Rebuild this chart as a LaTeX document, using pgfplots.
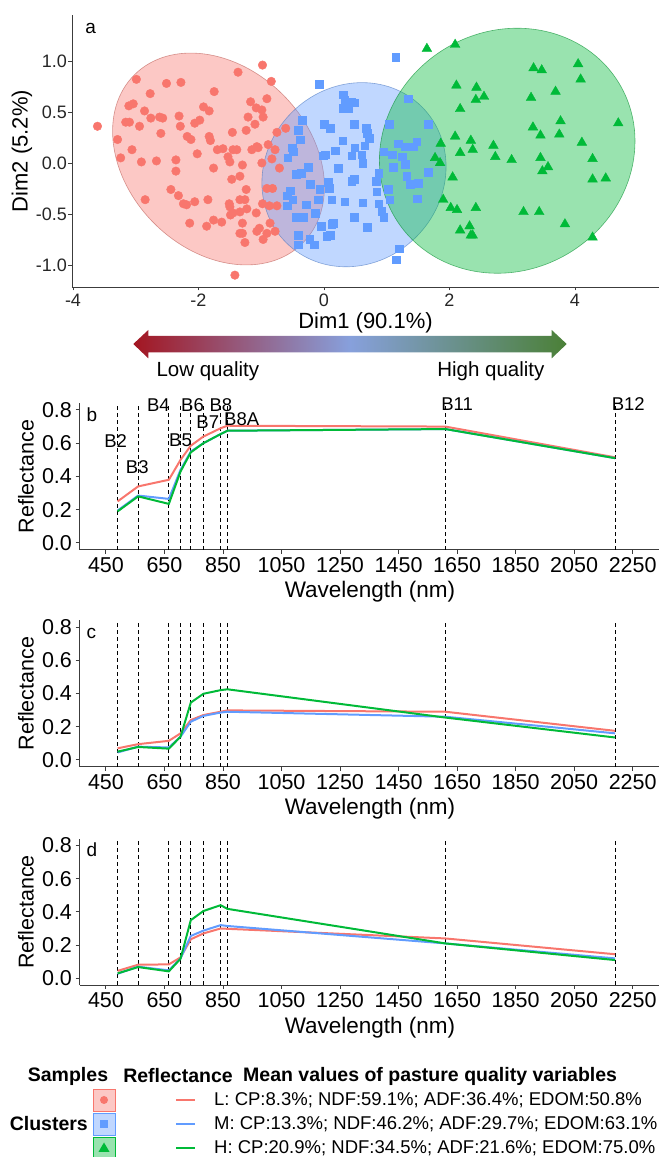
\documentclass[border=0pt]{standalone}
\usepackage{fontspec}
\setmainfont{Liberation Sans}
\usepackage{pgfplots}
\pgfplotsset{compat=1.18}
\usepackage{pgfplotstable}

\definecolor{cL}{HTML}{F8766D}
\definecolor{cM}{HTML}{619CFF}
\definecolor{cH}{HTML}{00BA38}
\definecolor{arrL}{RGB}{163,22,33}
\definecolor{arrM}{RGB}{135,160,220}
\definecolor{arrR}{RGB}{75,128,55}
\definecolor{axgray}{RGB}{60,60,60}

% PCA scores (Dim1, Dim2) by cluster
\pgfplotstableread{
x y
-3.61 0.36
-3.29 0.23
-3.24 0.05
-2.99 0.82
-3.11 0.56
-3.04 0.58
-3.16 0.40
-3.10 0.40
-3.06 0.13
-2.94 0.36
-2.91 0.01
-2.85 -0.36
-2.86 0.51
-2.77 0.68
-2.76 0.44
-2.62 0.45
-2.57 0.44
-2.60 0.29
-2.67 0.02
-2.51 0.78
-2.28 0.79
-2.31 0.46
-2.29 0.36
-2.44 -0.26
-2.36 0.03
-2.36 -0.08
-2.32 -0.32
-2.24 -0.40
-2.19 -0.41
-2.14 -0.59
-2.18 0.26
-2.12 0.23
-2.06 0.39
-1.98 0.42
-2.02 0.09
-2.06 -0.38
-1.92 0.55
-1.83 0.51
-1.75 0.70
-1.83 0.26
-1.81 0.22
-1.76 -0.05
-1.85 -0.36
-1.87 -0.62
-1.76 -0.56
-1.63 -0.58
-1.70 0.13
-1.61 0.14
-1.53 0.06
-1.50 0.01
-1.46 0.30
-1.45 0.13
-1.39 0.13
-1.47 -0.16
-1.34 -0.13
-1.30 -0.02
-1.51 -0.40
-1.50 -0.43
-1.49 -0.51
-1.45 -0.49
-1.34 -0.36
-1.26 -0.36
-1.34 -0.48
-1.23 -0.45
-1.24 -0.26
-1.30 -0.59
-1.34 -0.69
-1.30 -0.69
-1.26 -0.78
-1.42 -1.10
-1.37 0.89
-1.17 0.60
-1.08 0.54
-1.21 0.45
-1.24 0.32
-1.10 0.38
-1.15 0.13
-1.07 0.16
-1.07 -0.67
-0.98 0.96
-0.84 0.80
-0.91 0.63
-0.99 0.52
-0.97 0.45
-0.75 0.30
-0.61 0.34
-1.05 0.15
-0.89 0.18
-0.78 0.13
-0.83 0.04
-0.99 0.00
-0.71 -0.05
-0.91 -0.25
-0.82 -0.25
-1.08 -0.49
-0.98 -0.40
-1.03 -0.64
-0.86 -0.59
-0.78 -0.67
-0.91 -0.69
-0.97 -0.75
-0.87 -0.42
-0.75 -0.42
}\ptsL

\pgfplotstableread{
x y
1.14 1.04
-0.08 0.77
0.31 0.67
0.33 0.62
0.43 0.60
0.48 0.59
0.31 0.54
0.39 0.54
1.34 0.63
-0.35 0.42
0.00 0.38
0.10 0.34
0.48 0.38
0.67 0.34
0.69 0.29
0.72 0.24
1.04 0.38
1.66 0.38
-0.41 0.32
-0.38 0.23
-0.51 0.15
-0.49 0.11
0.30 0.22
0.49 0.15
0.18 0.12
0.65 0.17
-0.01 0.07
0.44 0.07
0.60 0.08
0.62 0.00
0.95 0.11
1.09 0.08
1.18 0.19
1.29 0.16
1.42 0.16
1.48 0.21
1.25 0.06
1.29 -0.01
1.10 -0.04
-0.25 -0.04
-0.44 -0.11
-0.36 -0.10
0.23 -0.05
0.87 -0.10
0.83 -0.18
1.32 -0.13
1.66 -0.09
-0.22 -0.21
0.44 -0.18
0.48 -0.16
0.07 -0.19
0.08 -0.25
-0.07 -0.26
1.37 -0.21
1.50 -0.20
-0.54 -0.27
-0.59 -0.32
0.84 -0.28
1.02 -0.26
-0.09 -0.36
-0.50 -0.36
0.12 -0.36
0.33 -0.38
0.62 -0.39
0.87 -0.40
0.92 -0.47
1.05 -0.36
1.49 -0.35
-0.28 -0.41
-0.14 -0.49
-0.59 -0.42
-0.44 -0.53
0.48 -0.53
0.95 -0.53
0.69 -0.63
0.12 -0.60
0.10 -0.71
0.04 -0.72
-0.41 -0.71
-0.41 -0.80
-0.23 -0.75
-0.16 -0.80
1.20 -0.84
1.15 -0.95
0.02 0.08
-0.58 0.05
-0.33 -0.53
-0.04 -0.62
0.15 -0.59
}\ptsM

\pgfplotstableread{
x y
1.64 1.12
2.09 1.16
3.34 0.93
3.47 0.91
4.05 0.97
4.09 0.82
2.11 0.76
2.43 0.74
2.42 0.62
2.55 0.65
3.69 0.70
3.30 0.64
2.17 0.53
3.77 0.41
4.69 0.39
3.33 0.35
3.45 0.27
3.75 0.28
2.09 0.26
2.34 0.22
2.37 0.13
2.17 0.10
2.70 0.17
2.73 0.06
2.99 0.03
4.11 0.20
1.86 0.19
1.77 0.05
1.85 0.00
3.45 0.05
3.57 -0.04
3.48 -0.08
4.28 0.04
4.28 -0.16
4.49 -0.15
2.05 -0.14
1.90 -0.36
2.02 -0.44
2.12 -0.46
2.42 -0.44
3.18 -0.48
3.43 -0.48
3.84 -0.60
2.17 -0.66
2.32 -0.62
2.34 -0.71
2.37 -0.71
4.28 -0.73
}\ptsH

% Mean reflectance per cluster at the Sentinel-2 band centres
\pgfplotstableread{
wl L M H
490 0.250 0.195 0.190
560 0.340 0.285 0.280
665 0.380 0.265 0.235
705 0.500 0.440 0.430
740 0.585 0.550 0.545
783 0.640 0.600 0.600
842 0.690 0.655 0.655
865 0.705 0.675 0.675
1610 0.700 0.685 0.685
2190 0.515 0.510 0.510
}\specb

\pgfplotstableread{
wl L M H
490 0.070 0.045 0.050
560 0.095 0.080 0.078
665 0.115 0.075 0.068
705 0.160 0.140 0.140
740 0.240 0.230 0.345
783 0.270 0.265 0.398
842 0.290 0.285 0.420
865 0.298 0.290 0.425
1610 0.290 0.260 0.255
2190 0.175 0.160 0.135
}\specc

\pgfplotstableread{
wl L M H
490 0.045 0.028 0.030
560 0.082 0.070 0.068
665 0.084 0.048 0.042
705 0.126 0.120 0.118
740 0.235 0.255 0.350
783 0.270 0.287 0.405
842 0.300 0.320 0.440
865 0.298 0.315 0.418
1610 0.240 0.210 0.210
2190 0.145 0.120 0.110
}\specd

\newcommand\fs[1]{\fontsize{#1}{#1}\selectfont}

\pgfplotsset{
  classic/.style={
    scale only axis, anchor=south west, clip=false,
    axis lines=left,
    axis line style={-, draw=axgray, line width=0.9pt},
    tick style={draw=axgray, line width=0.9pt},
    tick align=outside, major tick length=4pt,
  },
  spectrum/.style={
    classic,
    width=579.4pt, height=146.3pt,
    xmin=360, xmax=2340, ymin=-0.04, ymax=0.84,
    xtick={450,650,...,2250},
    xticklabels={450,650,850,1050,1250,1450,1650,1850,2050,2250},
    ytick={0,0.2,0.4,0.6,0.8},
    yticklabels={0.0,0.2,0.4,0.6,0.8},
    ticklabel style={font=\fs{21.5}, text=black},
    yticklabel style={inner xsep=3.5pt},
  },
}

\newcommand\bands{%
  \pgfplotsinvokeforeach{490,560,665,705,740,783,842,865,1610,2190}{%
    \draw[black, line width=0.9pt, dash pattern=on 4pt off 3pt]
      (axis cs:##1,-0.04) -- (axis cs:##1,0.84);}%
}
\newcommand\spectra[1]{%
  \addplot[cL, line width=2pt] table[x=wl, y=L] {#1};
  \addplot[cM, line width=2pt] table[x=wl, y=M] {#1};
  \addplot[cH, line width=2pt] table[x=wl, y=H] {#1};
}

\begin{document}
\begin{tikzpicture}
\path[use as bounding box] (0,0) rectangle (659pt,1157pt);

% ---------------- a: PCA biplot of samples ----------------
\begin{axis}[classic,
  at={(72pt,870pt)}, width=587pt, height=272pt,
  xmin=-4.016, xmax=5.339, ymin=-1.216, ymax=1.451,
  major tick length=3.5pt,
  xtick={-4,-2,0,2,4}, xticklabels={-4,-2,0,2,4},
  ytick={-1,-0.5,0,0.5,1}, yticklabels={-1.0,-0.5,0.0,0.5,1.0},
  ticklabel style={font=\fs{18}, text=black!85},
  yticklabel style={inner xsep=1.5pt},
]
\addplot[only marks, color=cL, mark=*, mark size=4.3pt] table {\ptsL};
\addplot[only marks, color=cM, mark=square*, mark size=3.8pt] table {\ptsM};
\addplot[only marks, color=cH, mark=triangle*, mark size=5.6pt] table {\ptsH};

\path[fill=cL, fill opacity=0.4, draw=cL!75!black, draw opacity=0.6, line width=0.6pt,
  rotate around={-45:(axis cs:-1.681,0.039)}]
  (axis cs:-1.681,0.039) ellipse [x radius=119pt, y radius=91pt];
\path[fill=cM, fill opacity=0.4, draw=cM!75!black, draw opacity=0.6, line width=0.6pt,
  rotate around={45:(axis cs:0.478,-0.115)}]
  (axis cs:0.478,-0.115) ellipse [x radius=96pt, y radius=88pt];
\path[fill=cH, fill opacity=0.4, draw=cH!75!black, draw opacity=0.6, line width=0.6pt,
  rotate around={30.8:(axis cs:2.920,0.120)}]
  (axis cs:2.920,0.120) ellipse [x radius=130.6pt, y radius=119.5pt];

\node[anchor=base west, font=\fs{19}] at (axis cs:-3.86,1.27) {a};
\end{axis}
\node[rotate=90, font=\fs{22}] at (22pt,1006pt) {Dim2 (5.2\%)};
\node[anchor=base, font=\fs{22}] at (365.5pt,828pt) {Dim1 (90.1\%)};

% quality gradient arrow
\shade[left color=arrL, right color=arrR, middle color=arrM]
  (133.3pt,813pt) -- (148.3pt,827pt) -- (148.3pt,821pt) -- (551.7pt,821pt)
  -- (551.7pt,827pt) -- (566.7pt,813pt) -- (551.7pt,798.7pt) -- (551.7pt,804.7pt)
  -- (148.3pt,804.7pt) -- (148.3pt,798.7pt) -- cycle;
\node[anchor=base west, font=\fs{20.5}] at (153pt,780pt) {Low quality};
\node[anchor=base east, font=\fs{20.5}] at (548pt,780pt) {High quality};

% ---------------- b ----------------
\begin{axis}[spectrum, at={(79.6pt,607.4pt)}]
\bands
\spectra{\specb}
\node[anchor=base west, font=\fs{19}] at (axis cs:372,0.73) {b};
\begin{scope}[font=\fs{18.5}]
\node at (axis cs:483,0.61) {B2};
\node at (axis cs:557,0.455) {B3};
\node at (axis cs:629,0.826) {B4};
\node at (axis cs:705,0.62) {B5};
\node at (axis cs:746,0.83) {B6};
\node at (axis cs:798,0.724) {B7};
\node at (axis cs:843,0.83) {B8};
\node at (axis cs:914,0.746) {B8A};
\node at (axis cs:1650,0.836) {B11};
\node at (axis cs:2235,0.836) {B12};
\end{scope}
\end{axis}
\node[rotate=90, font=\fs{21.5}] at (26pt,680.5pt) {Reflectance};
\node[font=\fs{22.5}] at (370pt,565pt) {Wavelength (nm)};

% ---------------- c ----------------
\begin{axis}[spectrum, at={(79.6pt,390.4pt)}]
\bands
\spectra{\specc}
\node[anchor=base west, font=\fs{19}] at (axis cs:372,0.73) {c};
\end{axis}
\node[rotate=90, font=\fs{21.5}] at (26pt,463.5pt) {Reflectance};
\node[font=\fs{22.5}] at (370pt,348pt) {Wavelength (nm)};

% ---------------- d ----------------
\begin{axis}[spectrum, at={(79.6pt,172pt)}]
\bands
\spectra{\specd}
\node[anchor=base west, font=\fs{19}] at (axis cs:372,0.73) {d};
\end{axis}
\node[rotate=90, font=\fs{21.5}] at (26pt,245.1pt) {Reflectance};
\node[font=\fs{22.5}] at (370pt,129.6pt) {Wavelength (nm)};

% ---------------- legend ----------------
\begin{scope}[font=\fs{19.5}\bfseries]
\node at (68pt,81pt) {Samples};
\node at (178pt,81pt) {Reflectance};
\node[anchor=west, inner sep=0pt] at (243pt,81pt) {Mean values of pasture quality variables};
\node[anchor=east, inner sep=0pt] at (88pt,33pt) {Clusters};
\end{scope}
% keys
\path[fill=cL!40, draw=cL, line width=0.8pt] (93pt,46pt) rectangle (115pt,68pt);
\fill[cL] (104pt,57pt) circle (4pt);
\path[fill=cM!40, draw=cM, line width=0.8pt] (93pt,22pt) rectangle (115pt,44pt);
\fill[cM] (100.2pt,29.2pt) rectangle (107.8pt,36.8pt);
\path[fill=cH!40, draw=cH, line width=0.8pt] (93pt,-2pt) rectangle (115pt,20pt);
\fill[cH] (104pt,14.5pt) -- (98.5pt,5.2pt) -- (109.5pt,5.2pt) -- cycle;
\draw[cL, line width=1.6pt] (176pt,57pt) -- (195pt,57pt);
\draw[cM, line width=1.6pt] (176pt,33pt) -- (195pt,33pt);
\draw[cH, line width=1.6pt] (176pt,9pt) -- (195pt,9pt);
\begin{scope}[font=\fs{18.5}]
\node[anchor=west, inner sep=0pt] at (214pt,57pt) {L: CP:8.3\%; NDF:59.1\%; ADF:36.4\%; EDOM:50.8\%};
\node[anchor=west, inner sep=0pt] at (214pt,33pt) {M: CP:13.3\%; NDF:46.2\%; ADF:29.7\%; EDOM:63.1\%};
\node[anchor=west, inner sep=0pt] at (214pt,9pt) {H: CP:20.9\%; NDF:34.5\%; ADF:21.6\%; EDOM:75.0\%};
\end{scope}
\end{tikzpicture}
\end{document}
